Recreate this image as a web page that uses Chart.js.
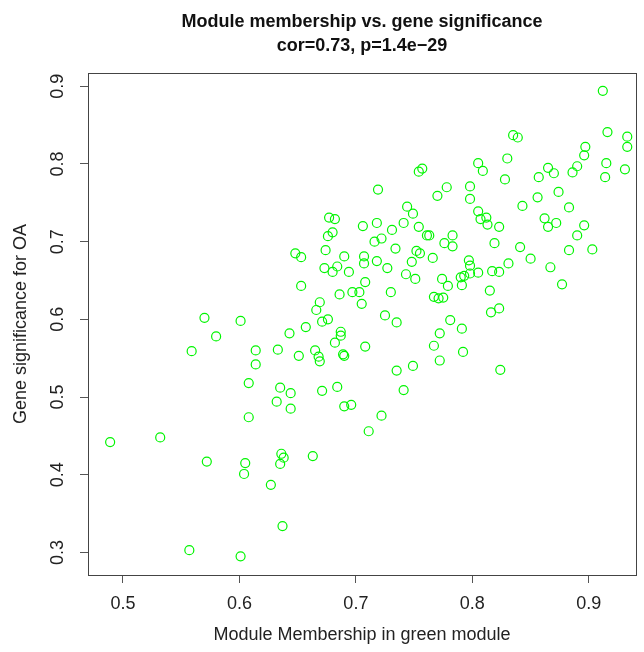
<!DOCTYPE html>
<html>
<head>
<meta charset="utf-8">
<script src="https://cdn.jsdelivr.net/npm/chart.js@4/dist/chart.umd.min.js"></script>
<style>
  html, body { margin: 0; padding: 0; background: #ffffff; }
  #wrap { width: 644px; height: 652px; }
</style>
</head>
<body>
<div id="wrap"><canvas id="c" width="644" height="652"></canvas></div>
<script>
// ---- data ----
const titleLines = ["Module membership vs. gene significance", "cor=0.73, p=1.4e\u221229"];
const xLabel = "Module Membership in green module";
const yLabel = "Gene significance for OA";
const xTicks = [0.5, 0.6, 0.7, 0.8, 0.9];
const yTicks = [0.3, 0.4, 0.5, 0.6, 0.7, 0.8, 0.9];

const moduleMembership = [
  0.570, 0.580, 0.559, 0.532, 0.489, 0.572, 0.557,
  0.601, 0.643, 0.657, 0.671, 0.676, 0.687, 0.687, 0.682, 0.614, 0.633, 0.651, 0.665, 0.668,
  0.669, 0.689, 0.690, 0.614, 0.608, 0.635, 0.644, 0.632, 0.644, 0.671, 0.684, 0.690, 0.696,
  0.608, 0.636, 0.638, 0.635, 0.663, 0.605, 0.604, 0.627, 0.637, 0.601,
  0.725, 0.735, 0.781, 0.791, 0.772, 0.708, 0.767, 0.792, 0.772, 0.735, 0.749, 0.741, 0.722,
  0.711, 0.824,
  0.677, 0.682, 0.676, 0.680, 0.674, 0.648, 0.653, 0.690, 0.673, 0.684, 0.680, 0.694, 0.653,
  0.697, 0.686, 0.669, 0.666,
  0.805, 0.809, 0.754, 0.757, 0.719, 0.778, 0.770, 0.798, 0.798, 0.744, 0.749, 0.805, 0.807,
  0.812, 0.813, 0.706, 0.718, 0.741, 0.731, 0.754, 0.761, 0.763, 0.783, 0.776, 0.783, 0.716,
  0.722, 0.734, 0.707, 0.707, 0.718, 0.727, 0.752, 0.755, 0.748, 0.766, 0.797, 0.798, 0.805,
  0.790, 0.793, 0.798, 0.791, 0.743, 0.751, 0.774, 0.779, 0.708, 0.703, 0.730, 0.705, 0.767,
  0.771, 0.775,
  0.912, 0.916, 0.933, 0.933, 0.835, 0.839, 0.897, 0.896, 0.830, 0.915, 0.931, 0.914, 0.890,
  0.886, 0.865, 0.870, 0.828, 0.857, 0.856, 0.874, 0.843, 0.883, 0.862, 0.865, 0.872, 0.896,
  0.890, 0.823, 0.819, 0.841, 0.850, 0.883, 0.903, 0.831, 0.867, 0.817, 0.823, 0.877, 0.815,
  0.816, 0.823
];
const geneSignificance = [
  0.602, 0.578, 0.559, 0.448, 0.442, 0.417, 0.303,
  0.598, 0.582, 0.590, 0.597, 0.600, 0.584, 0.579, 0.570, 0.560, 0.561, 0.553, 0.560, 0.552,
  0.546, 0.555, 0.553, 0.542, 0.518, 0.512, 0.505, 0.494, 0.485, 0.508, 0.513, 0.488, 0.490,
  0.474, 0.427, 0.422, 0.414, 0.424, 0.415, 0.401, 0.387, 0.334, 0.295,
  0.605, 0.596, 0.599, 0.588, 0.582, 0.565, 0.566, 0.558, 0.547, 0.534, 0.540, 0.509, 0.476,
  0.456, 0.535,
  0.731, 0.729, 0.707, 0.712, 0.689, 0.685, 0.680, 0.681, 0.666, 0.668, 0.661, 0.661, 0.643,
  0.635, 0.632, 0.622, 0.612,
  0.801, 0.791, 0.790, 0.794, 0.767, 0.770, 0.759, 0.771, 0.755, 0.745, 0.736, 0.739, 0.729,
  0.731, 0.722, 0.720, 0.724, 0.724, 0.715, 0.719, 0.708, 0.708, 0.708, 0.698, 0.694, 0.700,
  0.704, 0.691, 0.681, 0.672, 0.675, 0.666, 0.688, 0.685, 0.674, 0.679, 0.676, 0.669, 0.660,
  0.654, 0.656, 0.659, 0.644, 0.658, 0.652, 0.652, 0.643, 0.648, 0.635, 0.635, 0.620, 0.629,
  0.627, 0.628,
  0.894, 0.841, 0.835, 0.822, 0.837, 0.834, 0.822, 0.811, 0.807, 0.801, 0.793, 0.783, 0.797,
  0.789, 0.795, 0.788, 0.780, 0.783, 0.757, 0.764, 0.746, 0.744, 0.730, 0.719, 0.724, 0.721,
  0.708, 0.719, 0.698, 0.693, 0.678, 0.689, 0.690, 0.672, 0.667, 0.662, 0.661, 0.645, 0.637,
  0.609, 0.614
];

const points = moduleMembership.map((x, i) => ({ x: x, y: geneSignificance[i] }));

Chart.defaults.font.family = "'Liberation Sans', Arial, Helvetica, sans-serif";
Chart.defaults.color = '#1a1a1a';

const boxPlugin = {
  id: 'plotBox',
  beforeDatasetsDraw(chart) {
    const a = chart.chartArea;
    const ctx = chart.ctx;
    ctx.save();
    ctx.strokeStyle = '#444444';
    ctx.lineWidth = 1;
    ctx.strokeRect(Math.round(a.left) + 0.5, Math.round(a.top) + 0.5,
                   Math.round(a.right - a.left), Math.round(a.bottom - a.top));
    ctx.restore();
  }
};

new Chart(document.getElementById('c'), {
  type: 'scatter',
  data: {
    datasets: [{
      data: points,
      pointStyle: 'circle',
      pointRadius: 4.5,
      pointHoverRadius: 4.5,
      borderWidth: 1.2,
      borderColor: 'rgb(0,245,0)',
      backgroundColor: 'rgba(0,0,0,0)'
    }]
  },
  plugins: [boxPlugin],
  options: {
    responsive: false,
    animation: false,
    devicePixelRatio: 1,
    layout: { padding: { left: 0, right: 8, top: 0, bottom: 0 } },
    plugins: {
      legend: { display: false },
      tooltip: { enabled: false },
      title: {
        display: true,
        fullSize: false,
        text: titleLines,
        color: '#111111',
        font: { size: 18, weight: 'bold', lineHeight: 1.3333 },
        padding: { top: 10, bottom: 15 }
      }
    },
    scales: {
      x: {
        type: 'linear',
        position: 'bottom',
        min: 0.47,
        max: 0.9405,
        afterFit(scale) { scale.height = 77; },
        afterBuildTicks(scale) { scale.ticks = xTicks.map(v => ({ value: v })); },
        ticks: {
          stepSize: 0.1,
          includeBounds: false,
          padding: 10,
          color: '#222222',
          font: { size: 18 },
          callback: (v) => Number(v).toFixed(1)
        },
        grid: {
          display: true,
          drawOnChartArea: false,
          drawTicks: true,
          tickLength: 8,
          tickColor: '#555555',
          tickWidth: 1
        },
        border: { display: false },
        title: {
          display: true,
          text: xLabel,
          color: '#222222',
          font: { size: 18 },
          padding: { top: 0, bottom: 6 }
        }
      },
      y: {
        type: 'linear',
        position: 'left',
        min: 0.271,
        max: 0.917,
        afterFit(scale) { scale.width = 88; },
        afterBuildTicks(scale) { scale.ticks = yTicks.map(v => ({ value: v })); },
        ticks: {
          stepSize: 0.1,
          includeBounds: false,
          padding: 9,
          minRotation: 90,
          maxRotation: 90,
          crossAlign: 'center',
          color: '#222222',
          font: { size: 18 },
          callback: (v) => Number(v).toFixed(1)
        },
        grid: {
          display: true,
          drawOnChartArea: false,
          drawTicks: true,
          tickLength: 8,
          tickColor: '#555555',
          tickWidth: 1
        },
        border: { display: false },
        title: {
          display: true,
          text: yLabel,
          color: '#222222',
          font: { size: 18 },
          padding: { top: 10, bottom: 0 }
        }
      }
    }
  }
});
</script>
</body>
</html>
